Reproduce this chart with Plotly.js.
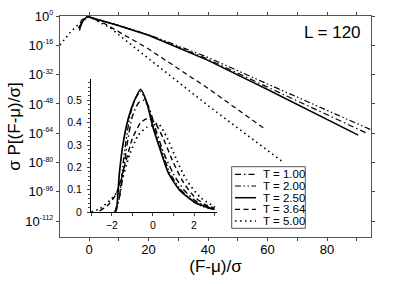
<!DOCTYPE html>
<html><head><meta charset="utf-8">
<script src="https://cdn.plot.ly/plotly-3.0.1.min.js"></script>
<style>html,body{margin:0;padding:0;background:#fff}#chart{width:399px;height:284px}</style>
</head><body><div id="chart"></div>
<script>
// ---- data ----
const seriesNames = ['T = 1.00','T = 2.00','T = 2.50','T = 3.64','T = 5.00'];
// main panel: x = (F-mu)/sigma, values are log10 of sigma P
const mainX_T100 = [-3.5,-1.8,-0.5,10,20,40,60,80,93.2];
const mainLog_T100 = [-6.5,-1.7,-0.3,-5.2,-10.4,-23.6,-38.8,-53.8,-63.8];
const mainX_T200 = [-3.5,-1.8,-0.6,10,20,40,60,80,95.5];
const mainLog_T200 = [-6.5,-1.7,-0.27,-5.1,-10.2,-22.6,-37.1,-51.4,-62.6];
const mainX_T250 = [-3.3,-1.85,-0.6,10,20,40,60,80,90.5];
const mainLog_T250 = [-7,-2,-0.26,-5.3,-10.5,-24.2,-40.1,-56.4,-65];
const mainX_T364 = [-3.2,-2.6,-0.25,5,20,40,59.5];
const mainLog_T364 = [-8,-2.3,-0.38,-4,-18,-39.5,-62.1];
const mainX_T500 = [-9.8,-6.3,-3,0.05,7.2,17.3,40.9,65.2];
const mainLog_T500 = [-15.8,-8.8,-3.6,-0.4,-6.6,-19.8,-50,-79.7];
// inset panel: linear sigma P
const insX_T100 = [-1.85,-1.6,-1.3,-1.0,-0.7,-0.45,-0.2,0.1,0.5,1.0,1.5,2.0,2.5,3.0];
const insY_T100 = [0,0.08,0.28,0.43,0.49,0.50,0.47,0.38,0.27,0.17,0.10,0.055,0.028,0.013];
const insX_T200 = [-1.85,-1.65,-1.4,-1.1,-0.85,-0.6,-0.35,0,0.4,0.8,1.3,2.0,2.5,3.0];
const insY_T200 = [0,0.06,0.26,0.44,0.51,0.54,0.50,0.39,0.28,0.18,0.105,0.045,0.022,0.011];
const insX_T250 = [-1.85,-1.78,-1.64,-1.45,-1.2,-0.9,-0.6,-0.3,0,0.35,0.75,1.3,2.1,3.0];
const insY_T250 = [0,0.01,0.17,0.31,0.42,0.50,0.55,0.49,0.38,0.28,0.175,0.098,0.04,0.011];
const insX_T364 = [-2.6,-2.2,-1.8,-1.4,-1.0,-0.6,-0.25,0.1,0.5,1.0,1.5,2.0,2.5,3.0];
const insY_T364 = [0.005,0.03,0.08,0.2,0.33,0.40,0.42,0.40,0.33,0.22,0.13,0.07,0.035,0.018];
const insX_T500 = [-3.0,-2.58,-2.1,-1.69,-1.12,-0.72,-0.3,0,0.26,0.67,1.16,1.64,2.29,3.02];
const insY_T500 = [0.0,0.015,0.052,0.097,0.262,0.344,0.38,0.389,0.396,0.336,0.232,0.142,0.067,0.022];
const yTickExp = [0,-16,-32,-48,-64,-80,-96,-112];
const xTickVals = [0,20,40,60,80];
const insXTicks = [-2,0,2];
const insYTicks = [0,0.1,0.2,0.3,0.4,0.5];

// ---- styles ----
const dashes = ['6px,3px,1.5px,3px','6px,2.5px,1.5px,2.5px,1.5px,2.5px','solid','5px,3.5px','1.5px,3.5px'];
const widths = [1.2,1.2,1.5,1.2,1.6];
const FONT = 'Liberation Sans, Arial, Helvetica, sans-serif';

const mainX = [mainX_T100,mainX_T200,mainX_T250,mainX_T364,mainX_T500];
const mainL = [mainLog_T100,mainLog_T200,mainLog_T250,mainLog_T364,mainLog_T500];
const insX = [insX_T100,insX_T200,insX_T250,insX_T364,insX_T500];
const insY = [insY_T100,insY_T200,insY_T250,insY_T364,insY_T500];

const traces = [];
for (let i=0;i<5;i++){
  traces.push({x: mainX[i], y: mainL[i].map(v=>Math.pow(10,v)), type:'scatter', mode:'lines',
    name: seriesNames[i], showlegend:false, xaxis:'x', yaxis:'y',
    line:{color:'#000', width:widths[i], dash:dashes[i]}});
}
for (let i=0;i<5;i++){
  traces.push({x: insX[i], y: insY[i], type:'scatter', mode:'lines', name: seriesNames[i],
    showlegend:false, xaxis:'x2', yaxis:'y2',
    line:{color:'#000', width:widths[i]+0.2, dash:dashes[i], shape:'spline', smoothing:0.6}});
}

// plot area in px
const L=60, R=371, T=16, B=237;
const px = v => (v-L)/(R-L);
const py = v => (B-v)/(B-T);

const shapes = [{type:'rect', xref:'paper', yref:'paper', x0:px(231.7), x1:px(305.3), y0:py(228.3), y1:py(166.7),
  line:{color:'#555', width:1}, fillcolor:'rgba(255,255,255,0)'}];
const annotations = [];
const rows = [174.3,186,197.7,209.3,221];
for (let i=0;i<5;i++){
  shapes.push({type:'line', xref:'paper', yref:'paper', x0:px(235), x1:px(256), y0:py(rows[i]), y1:py(rows[i]),
    line:{color:'#000', width:widths[i], dash:dashes[i]}});
  annotations.push({xref:'paper', yref:'paper', x:px(261), y:py(rows[i]), xanchor:'left', yanchor:'middle',
    text: seriesNames[i], showarrow:false, font:{family:FONT, size:11.5, color:'#000'}});
}
annotations.push({xref:'paper', yref:'paper', x:px(332.5), y:py(33), xanchor:'center', yanchor:'middle',
  text:'L = 120', showarrow:false, font:{family:FONT, size:17, color:'#000'}});

const layout = {
  width:399, height:284, margin:{l:L, r:399-R, t:T, b:284-B},
  paper_bgcolor:'#fff', plot_bgcolor:'rgba(0,0,0,0)', showlegend:false,
  font:{family:FONT, size:13, color:'#000'},
  xaxis:{range:[-9.8,94.8], tickvals:xTickVals, ticks:'outside', ticklen:3, tickcolor:'#444',
    minor:{dtick:10, tick0:0, ticks:'outside', ticklen:3, tickcolor:'#444'},
    showline:true, linecolor:'#555', linewidth:1.2, mirror:'ticks', showgrid:false, zeroline:false,
    tickfont:{size:13}, ticklabelstandoff:-3, title:{text:'(F-μ)/σ', font:{size:17}, standoff:0}},
  yaxis:{type:'log', range:[-120.6,0], tickvals:yTickExp.map(e=>Math.pow(10,e)),
    ticktext:yTickExp.map(e=>'10<sup><span style="font-size:7px">'+e+'</span></sup>'), ticks:'outside', ticklen:3, tickcolor:'#444',
    showline:true, linecolor:'#555', linewidth:1.2, mirror:'ticks', showgrid:false, zeroline:false,
    tickfont:{size:13}, title:{text:'σ P[(F-μ)/σ]', font:{size:17}, standoff:0}},
  xaxis2:{domain:[px(91),px(217)], anchor:'y2', range:[-3.02,3.12], tickvals:insXTicks,
    ticks:'outside', ticklen:3, minor:{dtick:1, tick0:0, ticks:'outside', ticklen:3},
    showline:true, linecolor:'#000', linewidth:1, showgrid:false, zeroline:false, tickfont:{size:10.5}},
  yaxis2:{domain:[py(212),py(79)], anchor:'x2', range:[0,0.596], tickvals:insYTicks,
    ticks:'outside', ticklen:3, minor:{dtick:0.02, tick0:0, ticks:'outside', ticklen:2},
    showline:true, linecolor:'#000', linewidth:1, showgrid:false, zeroline:false, tickfont:{size:10.5},
    ticklabelstandoff:3},
  shapes: shapes, annotations: annotations
};
Plotly.newPlot('chart', traces, layout, {staticPlot:true, displayModeBar:false});
</script></body></html>
